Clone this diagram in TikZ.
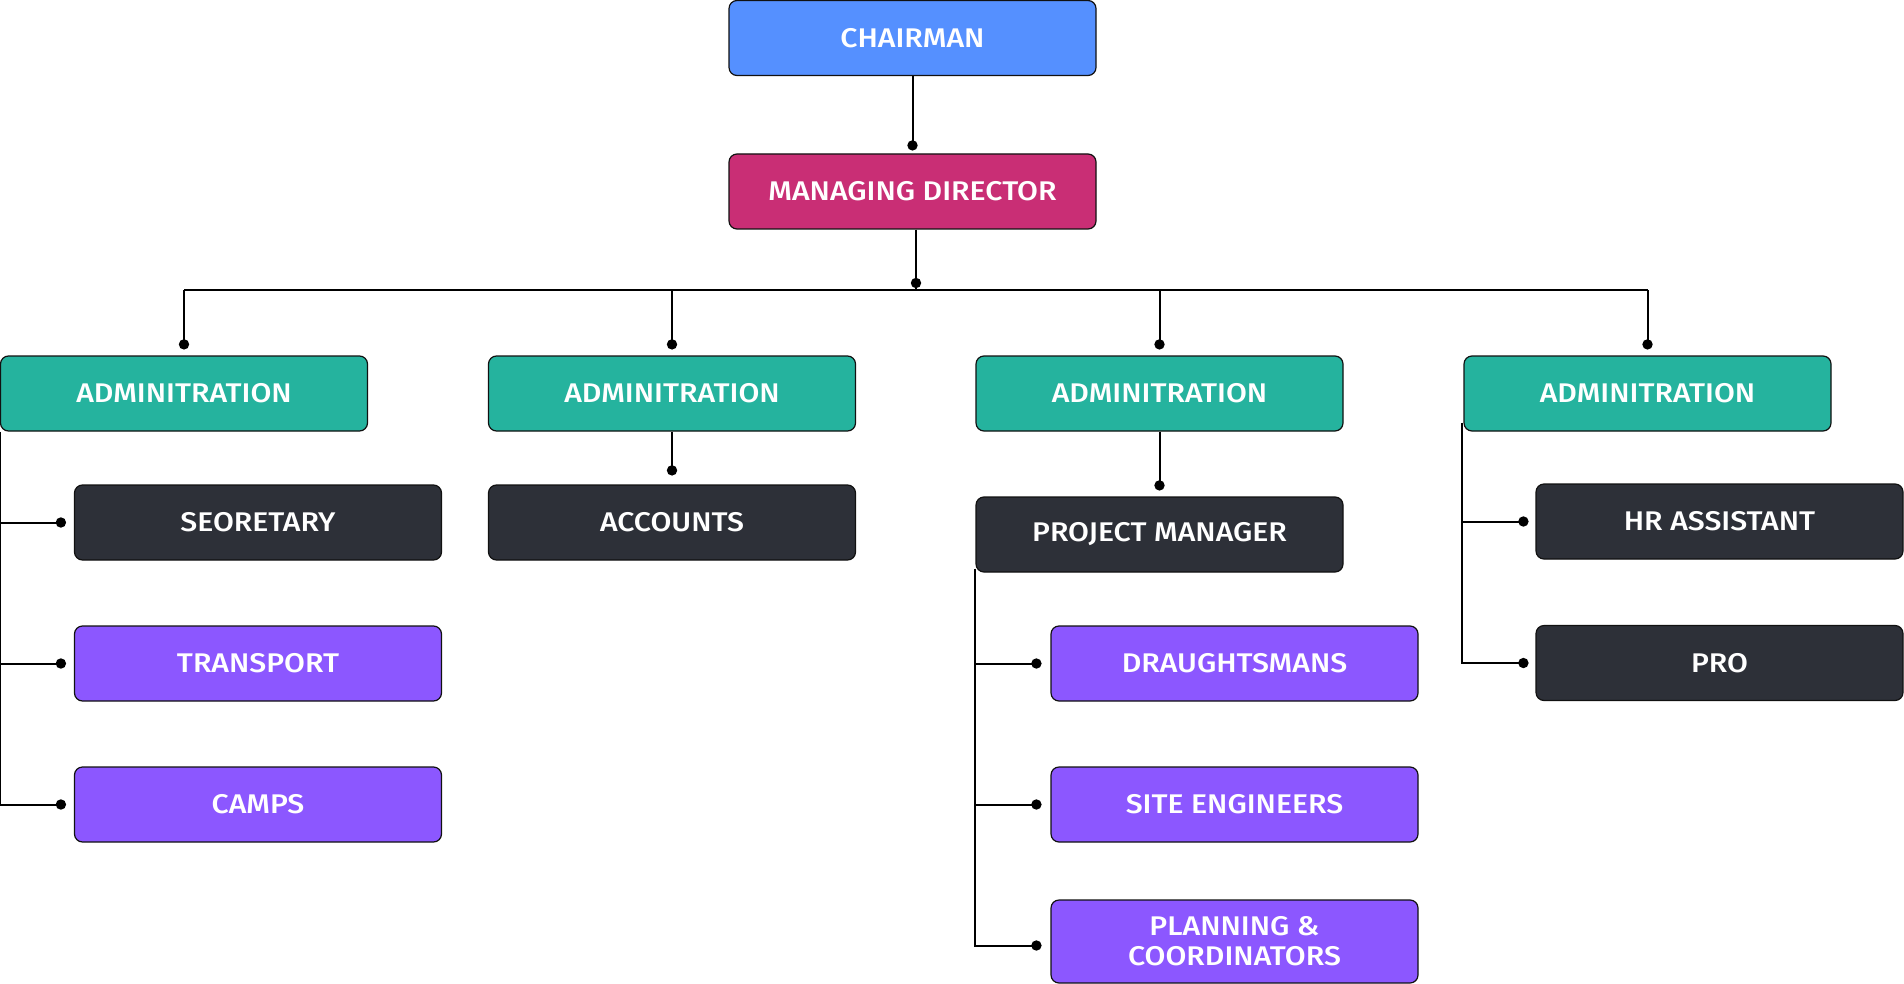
\documentclass[tikz,border=0pt]{standalone}
\usepackage{fontspec}
\setmainfont{Fira Sans}[UprightFont={* Medium}, FakeStretch=1.12]
\usetikzlibrary{calc}
\definecolor{cblue}{HTML}{5590FF}
\definecolor{cmag}{HTML}{C92E75}
\definecolor{cteal}{HTML}{25B39E}
\definecolor{cdark}{HTML}{2D3038}
\definecolor{cpurp}{HTML}{8C57FF}
\definecolor{cline}{HTML}{111111}
\tikzset{
  box/.style={draw=cline, line width=0.6pt, rounded corners=4pt, minimum width=183.5pt, minimum height=37.5pt,
    inner sep=0pt, text=white, font=\fontsize{13.5}{15}\selectfont, align=center},
  chbox/.style={box, fill=cblue},
  mdbox/.style={box, fill=cmag},
  adbox/.style={box, fill=cteal},
  dkbox/.style={box, fill=cdark},
  ppbox/.style={box, fill=cpurp},
  wire/.style={draw=black, line width=1pt},
}
\newcommand{\tipdot}[1]{\fill[black] (#1) circle (2.6pt);}
\begin{document}
\begin{tikzpicture}[x=0.5pt,y=-0.5pt]
\useasboundingbox (0,0) rectangle (1904,984);
% nodes
\node[chbox] (ch) at (912.5,38) {CHAIRMAN};
\node[mdbox] (md) at (912.5,191.5) {MANAGING DIRECTOR};
\node[adbox] (a1) at (184,393.5) {ADMINITRATION};
\node[adbox] (a2) at (672,393.5) {ADMINITRATION};
\node[adbox] (a3) at (1159.5,393.5) {ADMINITRATION};
\node[adbox] (a4) at (1647.5,393.5) {ADMINITRATION};
\node[dkbox] (sec) at (258,522.5) {SEORETARY};
\node[ppbox] (tra) at (258,663.5) {TRANSPORT};
\node[ppbox] (cam) at (258,804.5) {CAMPS};
\node[dkbox] (acc) at (672,522.5) {ACCOUNTS};
\node[dkbox] (pm) at (1159.5,534.5) {PROJECT MANAGER};
\node[ppbox] (dra) at (1234.5,663.5) {DRAUGHTSMANS};
\node[ppbox] (sit) at (1234.5,804.5) {SITE ENGINEERS};
\node[ppbox, minimum height=41.5pt] (pla) at (1234.5,941.5) {PLANNING \&\\COORDINATORS};
\node[dkbox] (hr) at (1719.5,521.5) {HR ASSISTANT};
\node[dkbox] (pro) at (1719.5,663) {PRO};
% coordinates
\coordinate (dmd) at ($(md.north)+(0,4pt)$);
\coordinate (mdb) at ($(md.south)+(1.75pt,0)$);
\coordinate (busm) at (916,290);
\coordinate (dbus) at (916,283);
\coordinate (busl) at (184,290);
\coordinate (busr) at (1647.5,290);
\coordinate (d1) at ($(a1.north)+(0,5.5pt)$);
\coordinate (d2) at ($(a2.north)+(0,5.5pt)$);
\coordinate (d3) at ($(a3.north)+(0,5.5pt)$);
\coordinate (d4) at ($(a4.north)+(0,5.5pt)$);
\coordinate (dsec) at ($(sec.west)+(-6.5pt,0)$);
\coordinate (dtra) at ($(tra.west)+(-6.5pt,0)$);
\coordinate (dcam) at ($(cam.west)+(-6.5pt,0)$);
\coordinate (dacc) at ($(acc.north)+(0,7pt)$);
\coordinate (dpm) at ($(pm.north)+(0,5.5pt)$);
\coordinate (ddra) at ($(dra.west)+(-7pt,0)$);
\coordinate (dsit) at ($(sit.west)+(-7pt,0)$);
\coordinate (dpla) at ($(pla.west)+(-7pt,-2pt)$);
\coordinate (dhr) at ($(hr.west)+(-6pt,0)$);
\coordinate (dpro) at ($(pro.west)+(-6pt,0)$);
\coordinate (r4) at ($(a4.south west)+(-0.5pt,4.5pt)$);
\coordinate (p4) at ($(pm.south west)+(0,2pt)$);
% connectors
\draw[wire] (ch.south) -- (dmd);
\draw[wire] (mdb) -- (busm);
\draw[wire] (busl) -- (busr);
\draw[wire] (d1 |- busl) -- (d1);
\draw[wire] (d2 |- busl) -- (d2);
\draw[wire] (d3 |- busl) -- (d3);
\draw[wire] (d4 |- busl) -- (d4);
\draw[wire] (a1.south west) -- (a1.south west |- dcam) -- (dcam);
\draw[wire] (a1.south west |- dsec) -- (dsec);
\draw[wire] (a1.south west |- dtra) -- (dtra);
\draw[wire] (a2.south) -- (dacc);
\draw[wire] (a3.south) -- (dpm);
\draw[wire] (p4) -- (p4 |- dpla) -- (dpla);
\draw[wire] (p4 |- ddra) -- (ddra);
\draw[wire] (p4 |- dsit) -- (dsit);
\draw[wire] (r4) -- (r4 |- dpro) -- (dpro);
\draw[wire] (r4 |- dhr) -- (dhr);
% dots
\foreach \p in {dmd,dbus,d1,d2,d3,d4,dsec,dtra,dcam,dacc,dpm,ddra,dsit,dpla,dhr,dpro}{\tipdot{\p}}
\end{tikzpicture}
\end{document}
